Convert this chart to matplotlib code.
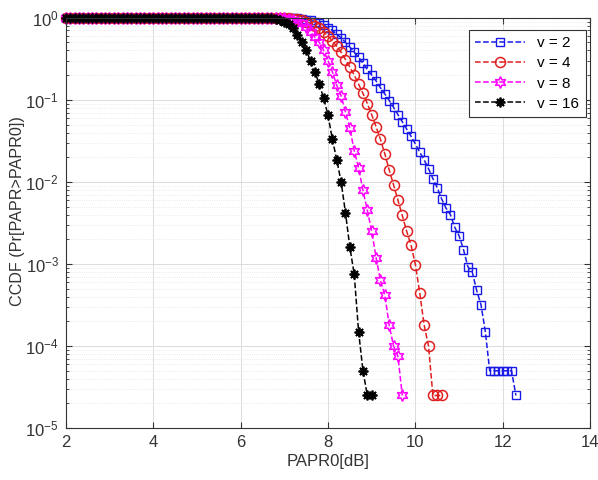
import numpy as np
import matplotlib
matplotlib.use('Agg')
import matplotlib.pyplot as plt

plt.rcParams['font.family'] = ['Liberation Sans', 'DejaVu Sans']
plt.rcParams['mathtext.fontset'] = 'custom'
plt.rcParams['mathtext.rm'] = 'Liberation Sans'
plt.rcParams['mathtext.it'] = 'Liberation Sans'

#PAPR0 thresholds (dB), 0.1 dB steps
papr0_db = np.round(np.arange(20, 124) / 10, 1)

#CCDF, starting at PAPR0 = 2 dB
ccdf_v2 = [1.0, 1.0, 1.0, 1.0, 1.0, 1.0, 1.0, 1.0, 1.0, 1.0,
           1.0, 1.0, 1.0, 1.0, 1.0, 1.0, 1.0, 1.0, 1.0, 1.0,
           1.0, 1.0, 1.0, 1.0, 1.0, 1.0, 1.0, 1.0, 1.0, 1.0,
           1.0, 1.0, 1.0, 1.0, 1.0, 1.0, 1.0, 1.0, 1.0, 1.0,
           1.0, 1.0, 1.0, 1.0, 1.0, 1.0, 1.0, 1.0, 1.0, 1.0,
           1.0,
           0.995, 0.99, 0.98, 0.97, 0.95, 0.93, 0.90, 0.86, 0.81, 0.76,
           0.70, 0.63, 0.57, 0.50, 0.44, 0.38, 0.33, 0.28, 0.235, 0.20,
           0.17, 0.14, 0.118, 0.098, 0.081, 0.066, 0.054, 0.044, 0.036, 0.029,
           0.023, 0.0185, 0.0145, 0.011, 0.0085, 0.0062, 0.0048, 0.0040, 0.0028, 0.0022,
           0.0015, 0.00093, 0.00080, 0.00048, 0.00032, 0.00015, 5e-5, 5e-5, 5e-5, 5e-5,
           5e-5, 5e-5, 2.5e-5]
ccdf_v4 = [1.0, 1.0, 1.0, 1.0, 1.0, 1.0, 1.0, 1.0, 1.0, 1.0,
           1.0, 1.0, 1.0, 1.0, 1.0, 1.0, 1.0, 1.0, 1.0, 1.0,
           1.0, 1.0, 1.0, 1.0, 1.0, 1.0, 1.0, 1.0, 1.0, 1.0,
           1.0, 1.0, 1.0, 1.0, 1.0, 1.0, 1.0, 1.0, 1.0, 1.0,
           1.0, 1.0, 1.0, 1.0, 1.0, 1.0, 1.0, 1.0, 1.0,
           0.995, 0.99, 0.98, 0.97, 0.955, 0.93, 0.90, 0.86, 0.80, 0.74,
           0.67, 0.60, 0.52, 0.45, 0.38, 0.31, 0.25, 0.20, 0.155, 0.12,
           0.09, 0.066, 0.047, 0.033, 0.022, 0.014, 0.0092, 0.0060, 0.0039, 0.0025,
           0.0017, 0.00098, 0.00044, 0.00018, 0.0001, 2.5e-5, 2.5e-5, 2.5e-5]
ccdf_v8 = [1.0, 1.0, 1.0, 1.0, 1.0, 1.0, 1.0, 1.0, 1.0, 1.0,
           1.0, 1.0, 1.0, 1.0, 1.0, 1.0, 1.0, 1.0, 1.0, 1.0,
           1.0, 1.0, 1.0, 1.0, 1.0, 1.0, 1.0, 1.0, 1.0, 1.0,
           1.0, 1.0, 1.0, 1.0, 1.0, 1.0, 1.0, 1.0, 1.0, 1.0,
           1.0, 1.0, 1.0, 1.0, 1.0, 1.0, 1.0, 1.0,
           0.995, 0.99, 0.98, 0.965, 0.94, 0.90, 0.86, 0.77, 0.67, 0.58,
           0.50, 0.40, 0.30, 0.22, 0.15, 0.112, 0.071, 0.045,
           0.024, 0.0148, 0.0079, 0.0045, 0.0025, 0.0012, 0.00063, 0.00042, 0.00018, 0.0001,
           7.5e-5, 2.5e-5]
ccdf_v16 = [1.0, 1.0, 1.0, 1.0, 1.0, 1.0, 1.0, 1.0, 1.0, 1.0,
            1.0, 1.0, 1.0, 1.0, 1.0, 1.0, 1.0, 1.0, 1.0, 1.0,
            1.0, 1.0, 1.0, 1.0, 1.0, 1.0, 1.0, 1.0, 1.0, 1.0,
            1.0, 1.0, 1.0, 1.0, 1.0, 1.0, 1.0, 1.0, 1.0, 1.0,
            1.0, 1.0, 1.0, 1.0, 1.0, 1.0,
            0.995, 0.99, 0.975, 0.95, 0.90, 0.83, 0.74, 0.62, 0.51, 0.40,
            0.30, 0.22, 0.155, 0.105, 0.065, 0.033, 0.0186, 0.010, 0.0042, 0.0016,
            0.00075, 0.00015, 5e-5, 2.5e-5, 2.5e-5]

labels = ['v = 2', 'v = 4', 'v = 8', 'v = 16']

fig = plt.figure(figsize=(5.98, 4.8), dpi=100)
ax = fig.add_axes([0.110, 0.108, 0.877, 0.855])

#v=2 blue squares, v=4 red circles, v=8 magenta hexagram, v=16 black asterisk
ax.semilogy(papr0_db[:len(ccdf_v2)], ccdf_v2, '--', color='#1a1ae6', marker='s',
            markersize=6, markerfacecolor='none', markeredgewidth=1.0, lw=1.1,
            clip_on=False, label=labels[0])
ax.semilogy(papr0_db[:len(ccdf_v4)], ccdf_v4, '--', color='#e02020', marker='o',
            markersize=7.2, markerfacecolor='none', markeredgewidth=1.1, lw=1.1,
            clip_on=False, label=labels[1])
ax.semilogy(papr0_db[:len(ccdf_v8)], ccdf_v8, '--', color='#ff00ff', marker=(6, 1, 0),
            markersize=8.5, markerfacecolor='none', markeredgewidth=1.1, lw=1.1,
            clip_on=False, label=labels[2])
ax.semilogy(papr0_db[:len(ccdf_v16)], ccdf_v16, '--', color='black', marker=(8, 2, 0),
            markersize=7, markeredgewidth=1.3, lw=1.1, clip_on=False, label=labels[3])

ax.set_xlim(2, 14)
ax.set_ylim(1e-5, 1)
ax.set_xticks([2, 4, 6, 8, 10, 12, 14])
ax.set_yticks([1e-5, 1e-4, 1e-3, 1e-2, 1e-1, 1])

ax.grid(True, which='major', color='#dcdcdc', lw=0.7)
ax.grid(True, which='minor', axis='y', color='#e4e4e4', lw=0.6, linestyle=':')
ax.set_axisbelow(True)

ax.tick_params(which='both', direction='in', top=True, right=True, colors='#333333',
               labelsize=12)
ax.tick_params(which='minor', length=2.5)
ax.tick_params(which='major', length=4, pad=5)
for s in ax.spines.values():
    s.set_color('#333333')
    s.set_linewidth(0.8)

ax.set_xlabel('PAPR0[dB]', fontsize=12, color='#333333', labelpad=3)
ax.set_ylabel('CCDF (Pr[PAPR>PAPR0])', fontsize=11.6, color='#333333')
ax.yaxis.set_label_coords(-0.078, 0.53)

leg = ax.legend(loc='upper right', bbox_to_anchor=(0.997, 0.977), fancybox=False,
                edgecolor='#333333', framealpha=1, fontsize=11, handlelength=3.3,
                borderaxespad=0.2, labelspacing=0.4)
leg.get_frame().set_linewidth(0.8)

fig.savefig('out.png', dpi=100)
